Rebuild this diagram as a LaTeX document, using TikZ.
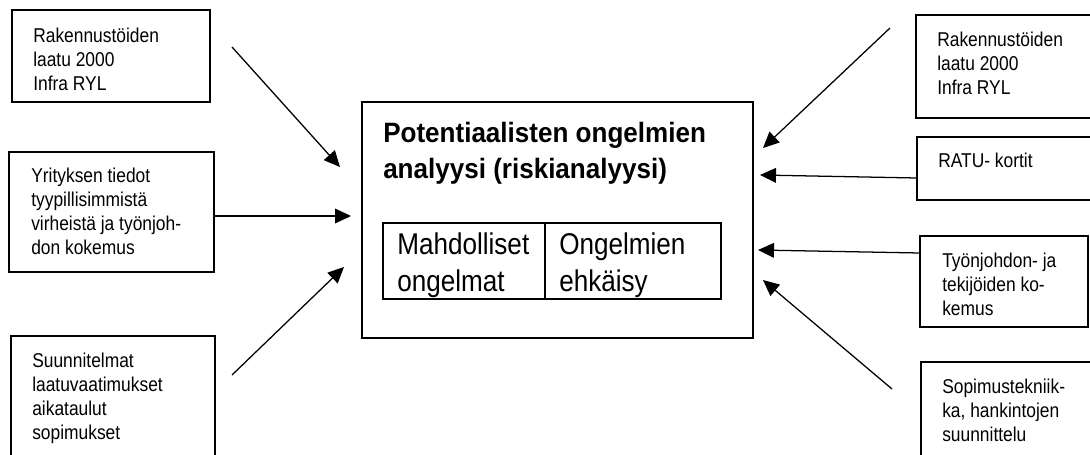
\documentclass[tikz,border=0pt]{standalone}
\usepackage{fontspec}
\setmainfont{Liberation Sans}
\newfontfamily\boxfont{Liberation Sans}[FakeStretch=0.87]
\newfontfamily\titlefont{Liberation Sans}[FakeStretch=0.93]
\usetikzlibrary{arrows.meta,fit}
\tikzstyle{source}=[draw=black, line width=1.2pt, inner sep=0pt]
\tikzstyle{srctext}=[font=\boxfont\fontsize{15}{18}\selectfont, align=left, anchor=base west, inner sep=0pt]
\tikzstyle{titletext}=[srctext, font=\titlefont\bfseries\fontsize{21}{27}\selectfont]
\tikzstyle{celltext}=[srctext, font=\boxfont\fontsize{22.5}{27.5}\selectfont]
\tikzstyle{arrow}=[draw, line width=0.95pt, -{Triangle[length=12pt, width=11pt]}]

\begin{document}
\begin{tikzpicture}[x=0.75pt, y=-0.75pt]
	\useasboundingbox (0,0) rectangle (1090,454);
	\clip (0,0) rectangle (1090,454);

	% left sources (text placed at baseline of last line)
	\node[source, fit={(12,10) (210,102)}] (l_1) {};
	\node[srctext] (l_1t) at (33,90) {Rakennustöiden\\laatu 2000\\Infra RYL};
	\node[source, fit={(9,152) (214,272)}] (l_2) {};
	\node[srctext] (l_2t) at (31,254) {Yrityksen tiedot\\tyypillisimmistä\\virheistä ja työnjoh-\\don kokemus};
	\node[source, fit={(11,336) (215,470)}] (l_3) {};
	\node[srctext] (l_3t) at (32,439) {Suunnitelmat\\laatuvaatimukset\\aikataulut\\sopimukset};

	% right sources
	\node[source, fit={(916,15) (1100,118)}] (r_1) {};
	\node[srctext] (r_1t) at (937,94) {Rakennustöiden\\laatu 2000\\Infra RYL};
	\node[source, fit={(917,137) (1100,200)}] (r_2) {};
	\node[srctext] (r_2t) at (938,167) {RATU- kortit};
	\node[source, fit={(920,236) (1088,327)}] (r_3) {};
	\node[srctext] (r_3t) at (942,315) {Työnjohdon- ja\\tekijöiden ko-\\kemus};
	\node[source, fit={(921,362) (1100,470)}] (r_4) {};
	\node[srctext] (r_4t) at (942,441) {Sopimustekniik-\\ka, hankintojen\\suunnittelu};

	% analysis
	\node[source, fit={(362,102) (753,338)}] (ana) {};
	\node[titletext] (ana_t) at (383,178) {Potentiaalisten ongelmien\\analyysi (riskianalyysi)};
	\node[source, fit={(383,223) (545,299)}] (poss) {};
	\node[source, fit={(545,223) (721,299)}] (prev) {};
	\node[celltext] (poss_t) at (397,291) {Mahdolliset\\ongelmat};
	\node[celltext] (prev_t) at (559,291) {Ongelmien\\ehkäisy};

	\coordinate (a_1) at (232,47);   \coordinate (h_1) at (340,167);
	\coordinate (h_2) at (351,216);
	\coordinate (a_3) at (232,375);  \coordinate (h_3) at (344,267);
	\coordinate (b_1) at (890,28);   \coordinate (k_1) at (763,148);
	\coordinate (b_2) at (917,178);  \coordinate (k_2) at (760,175);
	\coordinate (b_3) at (920,253);  \coordinate (k_3) at (758,250);
	\coordinate (b_4) at (892,389);  \coordinate (k_4) at (763,280);

	\draw[arrow] (a_1) -- (h_1);
	\draw[arrow] (h_2 -| l_2.east) -- (h_2);
	\draw[arrow] (a_3) -- (h_3);
	\foreach \source/\target in {b_1/k_1, b_2/k_2, b_3/k_3, b_4/k_4}{
		\draw[arrow] (\source) -- (\target);
	}
\end{tikzpicture}
\end{document}
